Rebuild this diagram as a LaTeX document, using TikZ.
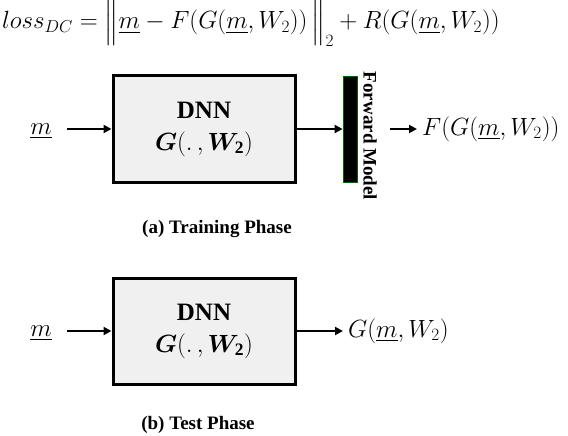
\documentclass[tikz,border=0pt]{standalone}
\usepackage{fontspec}
\setmainfont{Liberation Serif}
\usepackage{amsmath,bm}
\usetikzlibrary{arrows.meta}
\begin{document}
\begin{tikzpicture}[x=1pt,y=-1pt,
  dnnbox/.style={draw,line width=3pt,fill=black!6,minimum width=182pt,minimum height=106pt,align=center,font=\fontsize{25}{32}\selectfont},
  arr/.style={line width=2.4pt,-{Triangle[length=8pt,width=8pt]}},
  mathlbl/.style={font=\fontsize{25}{30}\selectfont,inner sep=0pt},
  captext/.style={font=\fontsize{19}{22}\selectfont\bfseries,inner sep=0pt}]
\useasboundingbox (0,0) rectangle (568,436);
\clip (0,0) rectangle (568,436);
\node[anchor=base west,mathlbl] (loss) at (2,29) {$loss_{DC}=\Big\|\underline{m}-F(G(\underline{m},W_2))\,\Big\|_2+R(G(\underline{m},W_2))$};
% training
\node[mathlbl,anchor=base] (m1) at (41,134) {$\underline{m}$};
\coordinate (a1s) at (67,129);
\node[dnnbox] (dnn1) at (204,129) {\textbf{DNN}\\$\bm{G}(.\,,\bm{W}_{\mathbf{2}})$};
\node[draw=green!40!black,line width=0.7pt,fill=black,minimum width=14pt,minimum height=106pt,inner sep=0pt] (bar) at (350,129) {};
\node[rotate=-90,font=\fontsize{19}{22}\selectfont\bfseries,inner sep=0pt] (fm) at (370,136) {Forward Model};
\coordinate (a3s) at (390,129);
\node[anchor=west,mathlbl] (out1) at (422,129) {$F(G(\underline{m},W_2))$};
\draw[arr] (a1s) -- (dnn1.west);
\draw[arr] (dnn1.east) -- (bar.west);
\draw[arr] (a3s) -- ([xshift=-5pt]out1.west);
\node[captext] (capa) at (217,229) {(a) Training Phase};
% test
\node[mathlbl,anchor=base] (m2) at (41,336) {$\underline{m}$};
\coordinate (a4s) at (67,331);
\node[dnnbox] (dnn2) at (204,331) {\textbf{DNN}\\$\bm{G}(.\,,\bm{W}_{\mathbf{2}})$};
\node[anchor=west,mathlbl] (out2) at (348,331) {$G(\underline{m},W_2)$};
\draw[arr] (a4s) -- (dnn2.west);
\draw[arr] (dnn2.east) -- ([xshift=-5pt]out2.west);
\node[captext] (capb) at (198,425) {(b) Test Phase};
\end{tikzpicture}
\end{document}
